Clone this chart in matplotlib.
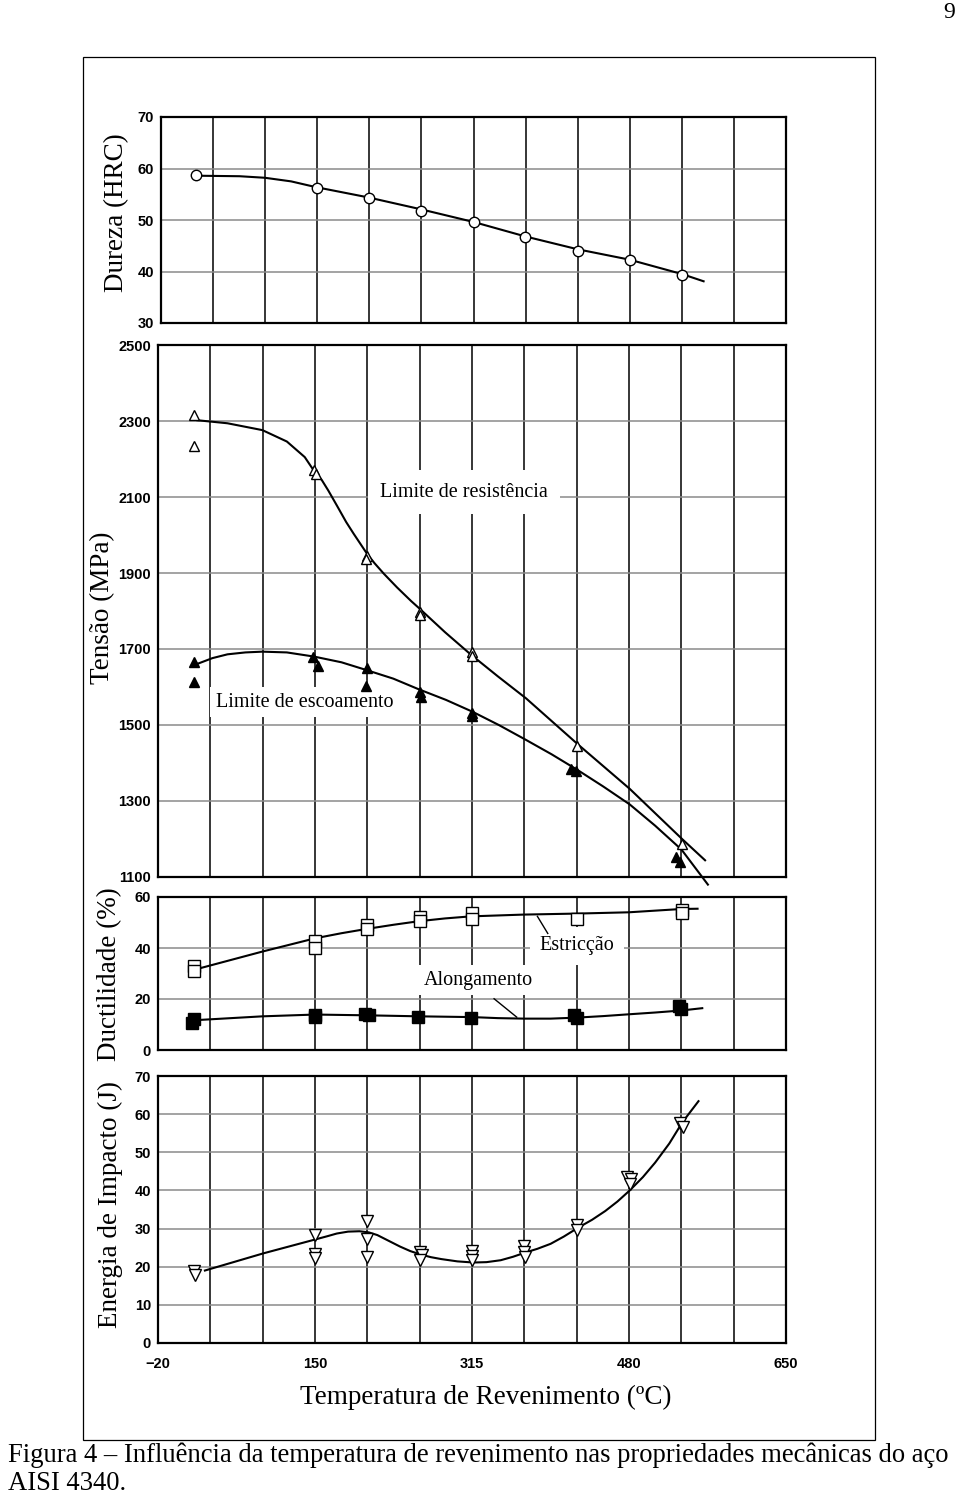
import numpy as np
import matplotlib.pyplot as plt
from matplotlib.patches import Rectangle

# eixo de temperatura: escala original em ºF, rotulada em ºC
x_min, x_max = -17.8, 648.9
x_tick_labels = ['\u221220', '150', '315', '480', '650']

# Dureza (HRC)
dureza_t = [20, 149, 204, 260, 316, 371, 427, 482, 538]
dureza = [58.8, 56.2, 54.2, 51.8, 49.6, 46.7, 44.0, 42.2, 39.3]
dureza_curva_t = [20, 66, 93, 121, 147, 203, 259, 316, 371, 427, 482, 538, 561]
dureza_curva = [58.6, 58.5, 58.2, 57.5, 56.4, 54.4, 52.1, 49.6, 46.8, 44.3, 42.3, 39.5, 38.1]

# Limite de resistencia (MPa)
resist_t = [20, 20, 148, 150, 204, 203, 260, 260, 316, 316, 427, 538]
resist = [2317, 2235, 2172, 2160, 1944, 1936, 1798, 1790, 1691, 1682, 1444, 1188]
resist_curva_t = [24, 56, 93, 119, 138, 148, 156, 163, 172, 182, 190, 197, 204, 212, 222, 236,
                  251, 260, 287, 314, 343, 373, 428, 483, 539, 563]
resist_curva = [2302, 2294, 2276, 2246, 2205, 2168, 2145, 2117, 2078, 2034, 2003, 1977, 1951,
                1926, 1898, 1862, 1826, 1806, 1744, 1686, 1628, 1570, 1449, 1332, 1199, 1144]

# Limite de escoamento (MPa)
escoam_t = [20, 20, 147, 152, 204, 203, 260, 261, 316, 316, 421, 426, 532, 536]
escoam = [1665, 1613, 1679, 1654, 1650, 1602, 1588, 1573, 1532, 1524, 1384, 1379, 1153, 1139]
escoam_curva_t = [22, 40, 56, 75, 93, 119, 148, 177, 203, 232, 259, 288, 316, 344, 372, 400,
                  428, 455, 483, 510, 538, 566]
escoam_curva = [1659, 1676, 1686, 1691, 1693, 1691, 1680, 1665, 1645, 1622, 1594, 1566, 1535,
                1500, 1462, 1423, 1381, 1338, 1291, 1235, 1172, 1080]

# Ductilidade (%)
estric_t = [20, 20, 149, 149, 204, 204, 260, 260, 316, 316, 427, 538, 538]
estric = [33.0, 31.0, 42.7, 39.9, 49.2, 47.6, 52.0, 50.5, 53.7, 51.4, 51.5, 54.8, 53.7]
estric_curva_t = [23, 93, 149, 177, 204, 232, 259, 287, 314, 370, 427, 482, 538, 555]
estric_curva = [31.7, 38.6, 43.8, 45.8, 47.5, 49.1, 50.5, 51.6, 52.4, 53.1, 53.5, 54.0, 55.3, 55.4]

along_t = [18, 20, 149, 149, 202, 206, 258, 314, 424, 427, 535, 537]
along = [10.4, 12.0, 13.6, 12.8, 14.0, 13.6, 12.9, 12.6, 13.6, 12.7, 17.2, 16.2]
along_curva_t = [22, 93, 149, 204, 260, 316, 343, 371, 399, 427, 455, 482, 510, 538, 560]
along_curva = [11.7, 13.2, 13.9, 13.6, 13.2, 12.9, 12.5, 12.3, 12.3, 12.7, 13.3, 14.0, 14.7,
               15.5, 16.4]

# Energia de impacto (J)
impacto_t = [20, 22, 149, 149, 149, 204, 204, 204, 260, 262, 260, 316, 316, 316,
             371, 371, 372, 427, 427, 480, 484, 483, 536, 540]
impacto = [19.0, 17.8, 28.4, 23.4, 22.4, 31.9, 27.2, 22.6, 23.9, 23.0, 21.7, 24.1, 22.8, 21.7,
           25.4, 23.9, 22.6, 31.0, 29.6, 43.6, 43.0, 41.7, 57.6, 56.6]
impacto_curva_t = [32, 94, 150, 162, 172, 184, 196, 206, 215, 227, 239, 250, 261, 272, 283,
                   300, 317, 331, 346, 359, 372, 385, 399, 413, 428, 443, 457, 470, 483,
                   497, 510, 525, 539, 556]
impacto_curva = [19.0, 23.5, 27.2, 28.0, 28.7, 29.2, 29.3, 29.0, 28.3, 26.8, 25.3, 24.1, 23.2,
                 22.5, 22.0, 21.4, 21.1, 21.2, 21.7, 22.6, 23.7, 24.7, 26.0, 27.9, 30.2, 32.3,
                 34.6, 37.1, 40.0, 43.5, 47.3, 52.3, 57.9, 63.4]

W, H = 960, 1498
fig = plt.figure(figsize=(W / 100, H / 100), dpi=100)
serif = ['Liberation Serif', 'DejaVu Serif']
sans = ['Liberation Sans Narrow', 'Liberation Sans', 'DejaVu Sans']
tick_font = dict(family=sans, fontsize=10.5, fontweight='bold')


def panel(left, top, right, bottom, ylim, yticks, ylabel, label_xy):
    ax = fig.add_axes([left / W, 1 - bottom / H, (right - left) / W, (bottom - top) / H])
    ax.set_xlim(x_min, x_max)
    ax.set_ylim(*ylim)
    grid_x = np.linspace(x_min, x_max, 13)
    ax.set_xticks(grid_x)
    ax.set_xticklabels([])
    ax.set_yticks(yticks)
    ax.set_yticklabels([str(v) for v in yticks], **tick_font)
    ax.tick_params(length=0, pad=5)
    ax.grid(axis='x', color='black', lw=1.1)
    ax.grid(axis='y', color='#8a8a8a', lw=1.1)
    for s in ax.spines.values():
        s.set_linewidth(1.6)
    fig.text(label_xy[0] / W, 1 - label_xy[1] / H, ylabel, rotation=90,
             ha='center', va='center', family=serif, fontsize=19.5)
    return ax


line_kw = dict(color='black', lw=1.5, zorder=3)
box = dict(facecolor='white', edgecolor='none', pad=4)

# --- Dureza
ax1 = panel(161, 117, 786, 323, (30, 70), [30, 40, 50, 60, 70], 'Dureza (HRC)', (117, 213))
ax1.plot(dureza_curva_t, dureza_curva, **line_kw)
ax1.plot(dureza_t, dureza, 'o', ms=7.5, mfc='white', mec='black', mew=1.0, zorder=4)

# --- Tensao
ax2 = panel(158, 345, 786, 877, (1100, 2500), [1100, 1300, 1500, 1700, 1900, 2100, 2300, 2500],
            'Tensão (MPa)', (103, 608))
ax2.plot(resist_curva_t, resist_curva, **line_kw)
ax2.plot(escoam_curva_t, escoam_curva, clip_on=False, **line_kw)
ax2.plot(resist_t, resist, '^', ms=7.5, mfc='white', mec='black', mew=1.0, zorder=4)
ax2.plot(escoam_t, escoam, '^', ms=7, mfc='black', mec='black', zorder=4)
ax2.text(307, 2112, 'Limite de resistência', ha='center', va='center', family=serif,
         fontsize=14.5, zorder=2.5, bbox=dict(facecolor='white', edgecolor='none', pad=9))
ax2.text(138, 1560, 'Limite de escoamento', ha='center', va='center', family=serif,
         fontsize=14.5, zorder=2.5, bbox=box)

# --- Ductilidade
ax3 = panel(158, 897, 786, 1050, (0, 60), [0, 20, 40, 60], 'Ductilidade (%)', (110, 974))
ax3.plot(estric_curva_t, estric_curva, **line_kw)
ax3.plot(along_curva_t, along_curva, **line_kw)
ax3.plot(estric_t, estric, 's', ms=8, mfc='white', mec='black', mew=1.0, zorder=4)
ax3.plot(along_t, along, 's', ms=8, mfc='black', mec='black', zorder=4)
ax3.text(427, 40.8, 'Estricção', ha='center', va='center', family=serif,
         fontsize=14.5, zorder=2.5, bbox=dict(facecolor='white', edgecolor='none', pad=7))
ax3.text(322, 27.4, 'Alongamento', ha='center', va='center', family=serif,
         fontsize=14.5, zorder=2.5, bbox=box)
ax3.plot([396, 385], [45.7, 52.4], color='black', lw=1.0, zorder=3)
ax3.plot([339, 363], [20.1, 12.9], color='black', lw=1.0, zorder=3)

# --- Energia de impacto
ax4 = panel(158, 1076, 786, 1343, (0, 70), list(range(0, 71, 10)),
            'Energia de Impacto (J)', (110, 1205))
ax4.plot(impacto_curva_t, impacto_curva, **line_kw)
ax4.plot(impacto_t, impacto, 'v', ms=8.5, mfc='white', mec='black', mew=1.0, zorder=4)
labels = [''] * 13
for k, lab in enumerate(x_tick_labels):
    labels[k * 3] = lab
ax4.set_xticklabels(labels, **tick_font)
ax4.tick_params(axis='x', pad=10)
fig.text(486 / W, 1 - 1397 / H, 'Temperatura de Revenimento (ºC)', ha='center', va='center',
         family=serif, fontsize=19.5)

# moldura da figura, numero da pagina e legenda
fig.patches.append(Rectangle((83 / W, 1 - 1440 / H), (875 - 83) / W, (1440 - 57) / H,
                             transform=fig.transFigure, fill=False, edgecolor='black', lw=0.9))
fig.text(955 / W, 1 - 12 / H, '9', ha='right', va='center', family=serif, fontsize=17)
fig.text(8 / W, 1 - 1455 / H,
         'Figura 4 \u2013 Influência da temperatura de revenimento nas propriedades mecânicas do aço',
         ha='left', va='center', family=serif, fontsize=19.2)
fig.text(8 / W, 1 - 1484 / H, 'AISI 4340.', ha='left', va='center', family=serif, fontsize=19.2)

fig.savefig('out.png', dpi=100)
